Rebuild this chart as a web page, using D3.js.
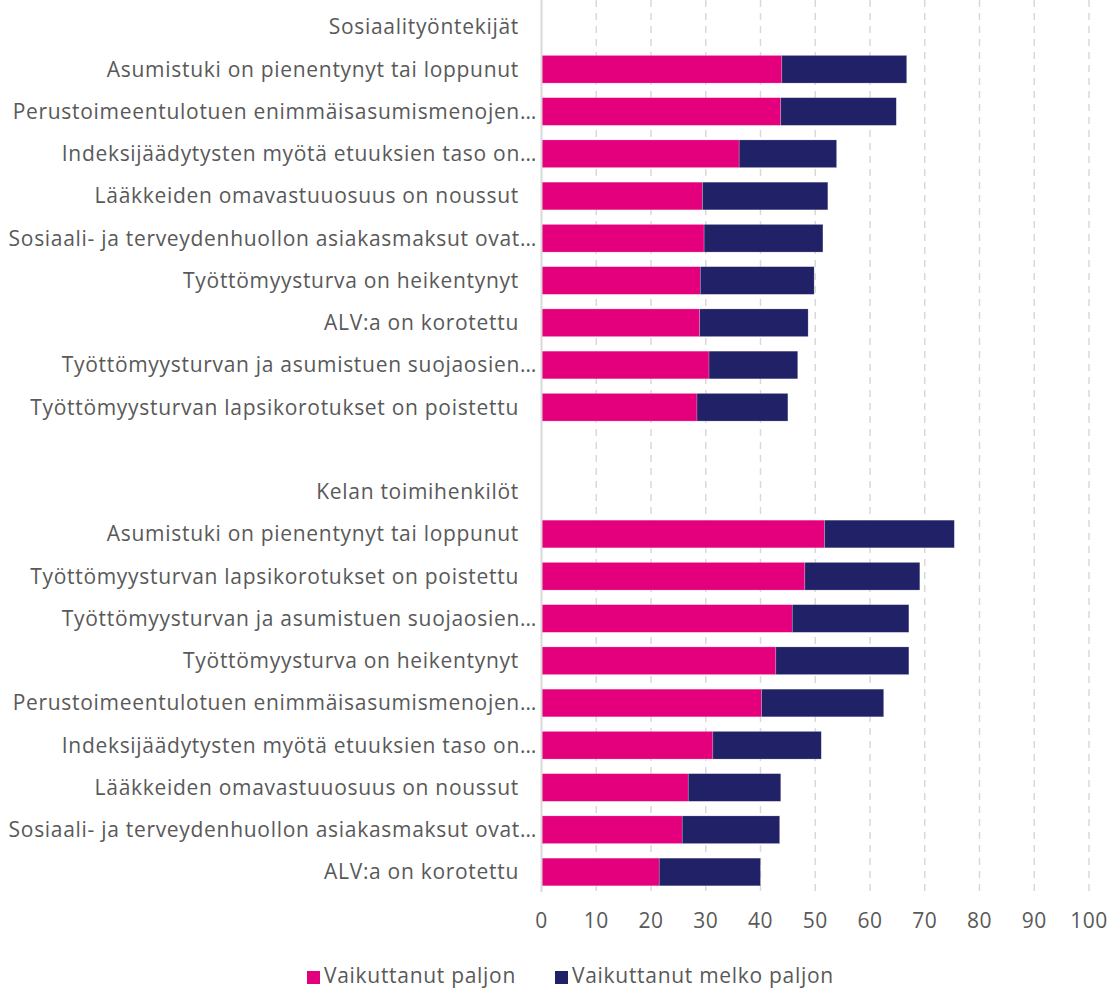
<!DOCTYPE html>
<html>
<head>
<meta charset="utf-8">
<script src="https://cdn.jsdelivr.net/npm/d3@7"></script>
<style>
  body { margin: 0; background: #fff; }
  text { font-family: "Open Sans", sans-serif; fill: #595959; }
</style>
</head>
<body>
<div id="chart"></div>
<script>
// data
const groups = ["Sosiaalityöntekijät", "Kelan toimihenkilöt"];

const sosLabels = [
  "Asumistuki on pienentynyt tai loppunut",
  "Perustoimeentulotuen enimmäisasumismenojen…",
  "Indeksijäädytysten myötä etuuksien taso on…",
  "Lääkkeiden omavastuuosuus on noussut",
  "Sosiaali- ja terveydenhuollon asiakasmaksut ovat…",
  "Työttömyysturva on heikentynyt",
  "ALV:a on korotettu",
  "Työttömyysturvan ja asumistuen suojaosien…",
  "Työttömyysturvan lapsikorotukset on poistettu"
];
const sosPaljon = [43.9, 43.7, 36.1, 29.4, 29.7, 29.0, 28.9, 30.6, 28.4];
const sosMelko  = [22.8, 21.1, 17.8, 22.9, 21.7, 20.8, 19.8, 16.2, 16.6];

const kelaLabels = [
  "Asumistuki on pienentynyt tai loppunut",
  "Työttömyysturvan lapsikorotukset on poistettu",
  "Työttömyysturvan ja asumistuen suojaosien…",
  "Työttömyysturva on heikentynyt",
  "Perustoimeentulotuen enimmäisasumismenojen…",
  "Indeksijäädytysten myötä etuuksien taso on…",
  "Lääkkeiden omavastuuosuus on noussut",
  "Sosiaali- ja terveydenhuollon asiakasmaksut ovat…",
  "ALV:a on korotettu"
];
const kelaPaljon = [51.7, 48.1, 45.8, 42.8, 40.2, 31.3, 26.8, 25.7, 21.5];
const kelaMelko  = [23.7, 21.0, 21.3, 24.3, 22.3, 19.8, 16.9, 17.8, 18.5];

const seriesNames = ["Vaikuttanut paljon", "Vaikuttanut melko paljon"];
const xTicks = [0, 10, 20, 30, 40, 50, 60, 70, 80, 90, 100];

const colors = ["#E4007C", "#212168"];

// rows: header, bars, blank, header, bars
const rows = [];
rows.push({ label: groups[0], header: true });
sosLabels.forEach((l, i) => rows.push({ label: l, values: [sosPaljon[i], sosMelko[i]] }));
rows.push({ label: "", header: true });
rows.push({ label: groups[1], header: true });
kelaLabels.forEach((l, i) => rows.push({ label: l, values: [kelaPaljon[i], kelaMelko[i]] }));
rows.forEach((r, i) => r.id = i);

const width = 1112, height = 992;
const svg = d3.select("#chart").append("svg")
  .attr("width", width)
  .attr("height", height);

const x = d3.scaleLinear().domain([0, 100]).range([541.5, 1089]);
const y = d3.scaleBand()
  .domain(rows.map(r => r.id))
  .range([6, 893])
  .paddingInner(0.345)
  .paddingOuter(0.17);

// gridlines
svg.append("g")
  .selectAll("line")
  .data(xTicks.slice(1))
  .join("line")
  .attr("x1", d => x(d)).attr("x2", d => x(d))
  .attr("y1", 0).attr("y2", 892)
  .attr("stroke", "#d9d9d9")
  .attr("stroke-width", 1.5)
  .attr("stroke-dasharray", "7,6");

// bars
const stack = rows.filter(r => r.values);
const barG = svg.append("g");
stack.forEach(r => {
  let start = 0;
  r.values.forEach((v, k) => {
    barG.append("rect")
      .attr("x", x(start))
      .attr("y", y(r.id))
      .attr("width", x(start + v) - x(start))
      .attr("height", y.bandwidth())
      .attr("fill", colors[k])
      .attr("stroke", "#ffffff")
      .attr("stroke-opacity", 0.35)
      .attr("stroke-width", 0.6);
    start += v;
  });
});

// vertical axis line
svg.append("line")
  .attr("x1", x(0)).attr("x2", x(0))
  .attr("y1", 0).attr("y2", 892)
  .attr("stroke", "#d9d9d9")
  .attr("stroke-width", 2);

// category labels
svg.append("g")
  .selectAll("text")
  .data(rows.filter(r => r.label))
  .join("text")
  .attr("x", d => d.label.endsWith("…") ? 537 : 519)
  .attr("y", d => y(d.id) + y.bandwidth() / 2)
  .attr("dy", "0.35em")
  .attr("text-anchor", "end")
  .style("font-size", "21px")
  .style("letter-spacing", "0.7px")
  .text(d => d.label);

// x tick labels
svg.append("g")
  .selectAll("text")
  .data(xTicks)
  .join("text")
  .attr("x", d => x(d))
  .attr("y", 921)
  .attr("dy", "0.35em")
  .attr("text-anchor", "middle")
  .style("font-size", "21px")
  .style("letter-spacing", "0.5px")
  .text(d => d);

// legend
const legendX = [307, 555];
const legend = svg.append("g");
seriesNames.forEach((name, i) => {
  legend.append("rect")
    .attr("x", legendX[i]).attr("y", 971)
    .attr("width", 13).attr("height", 13)
    .attr("fill", colors[i]);
  legend.append("text")
    .attr("x", legendX[i] + 17)
    .attr("y", 976)
    .attr("dy", "0.35em")
    .style("font-size", "21px")
    .style("letter-spacing", "0.7px")
    .text(name);
});
</script>
</body>
</html>
